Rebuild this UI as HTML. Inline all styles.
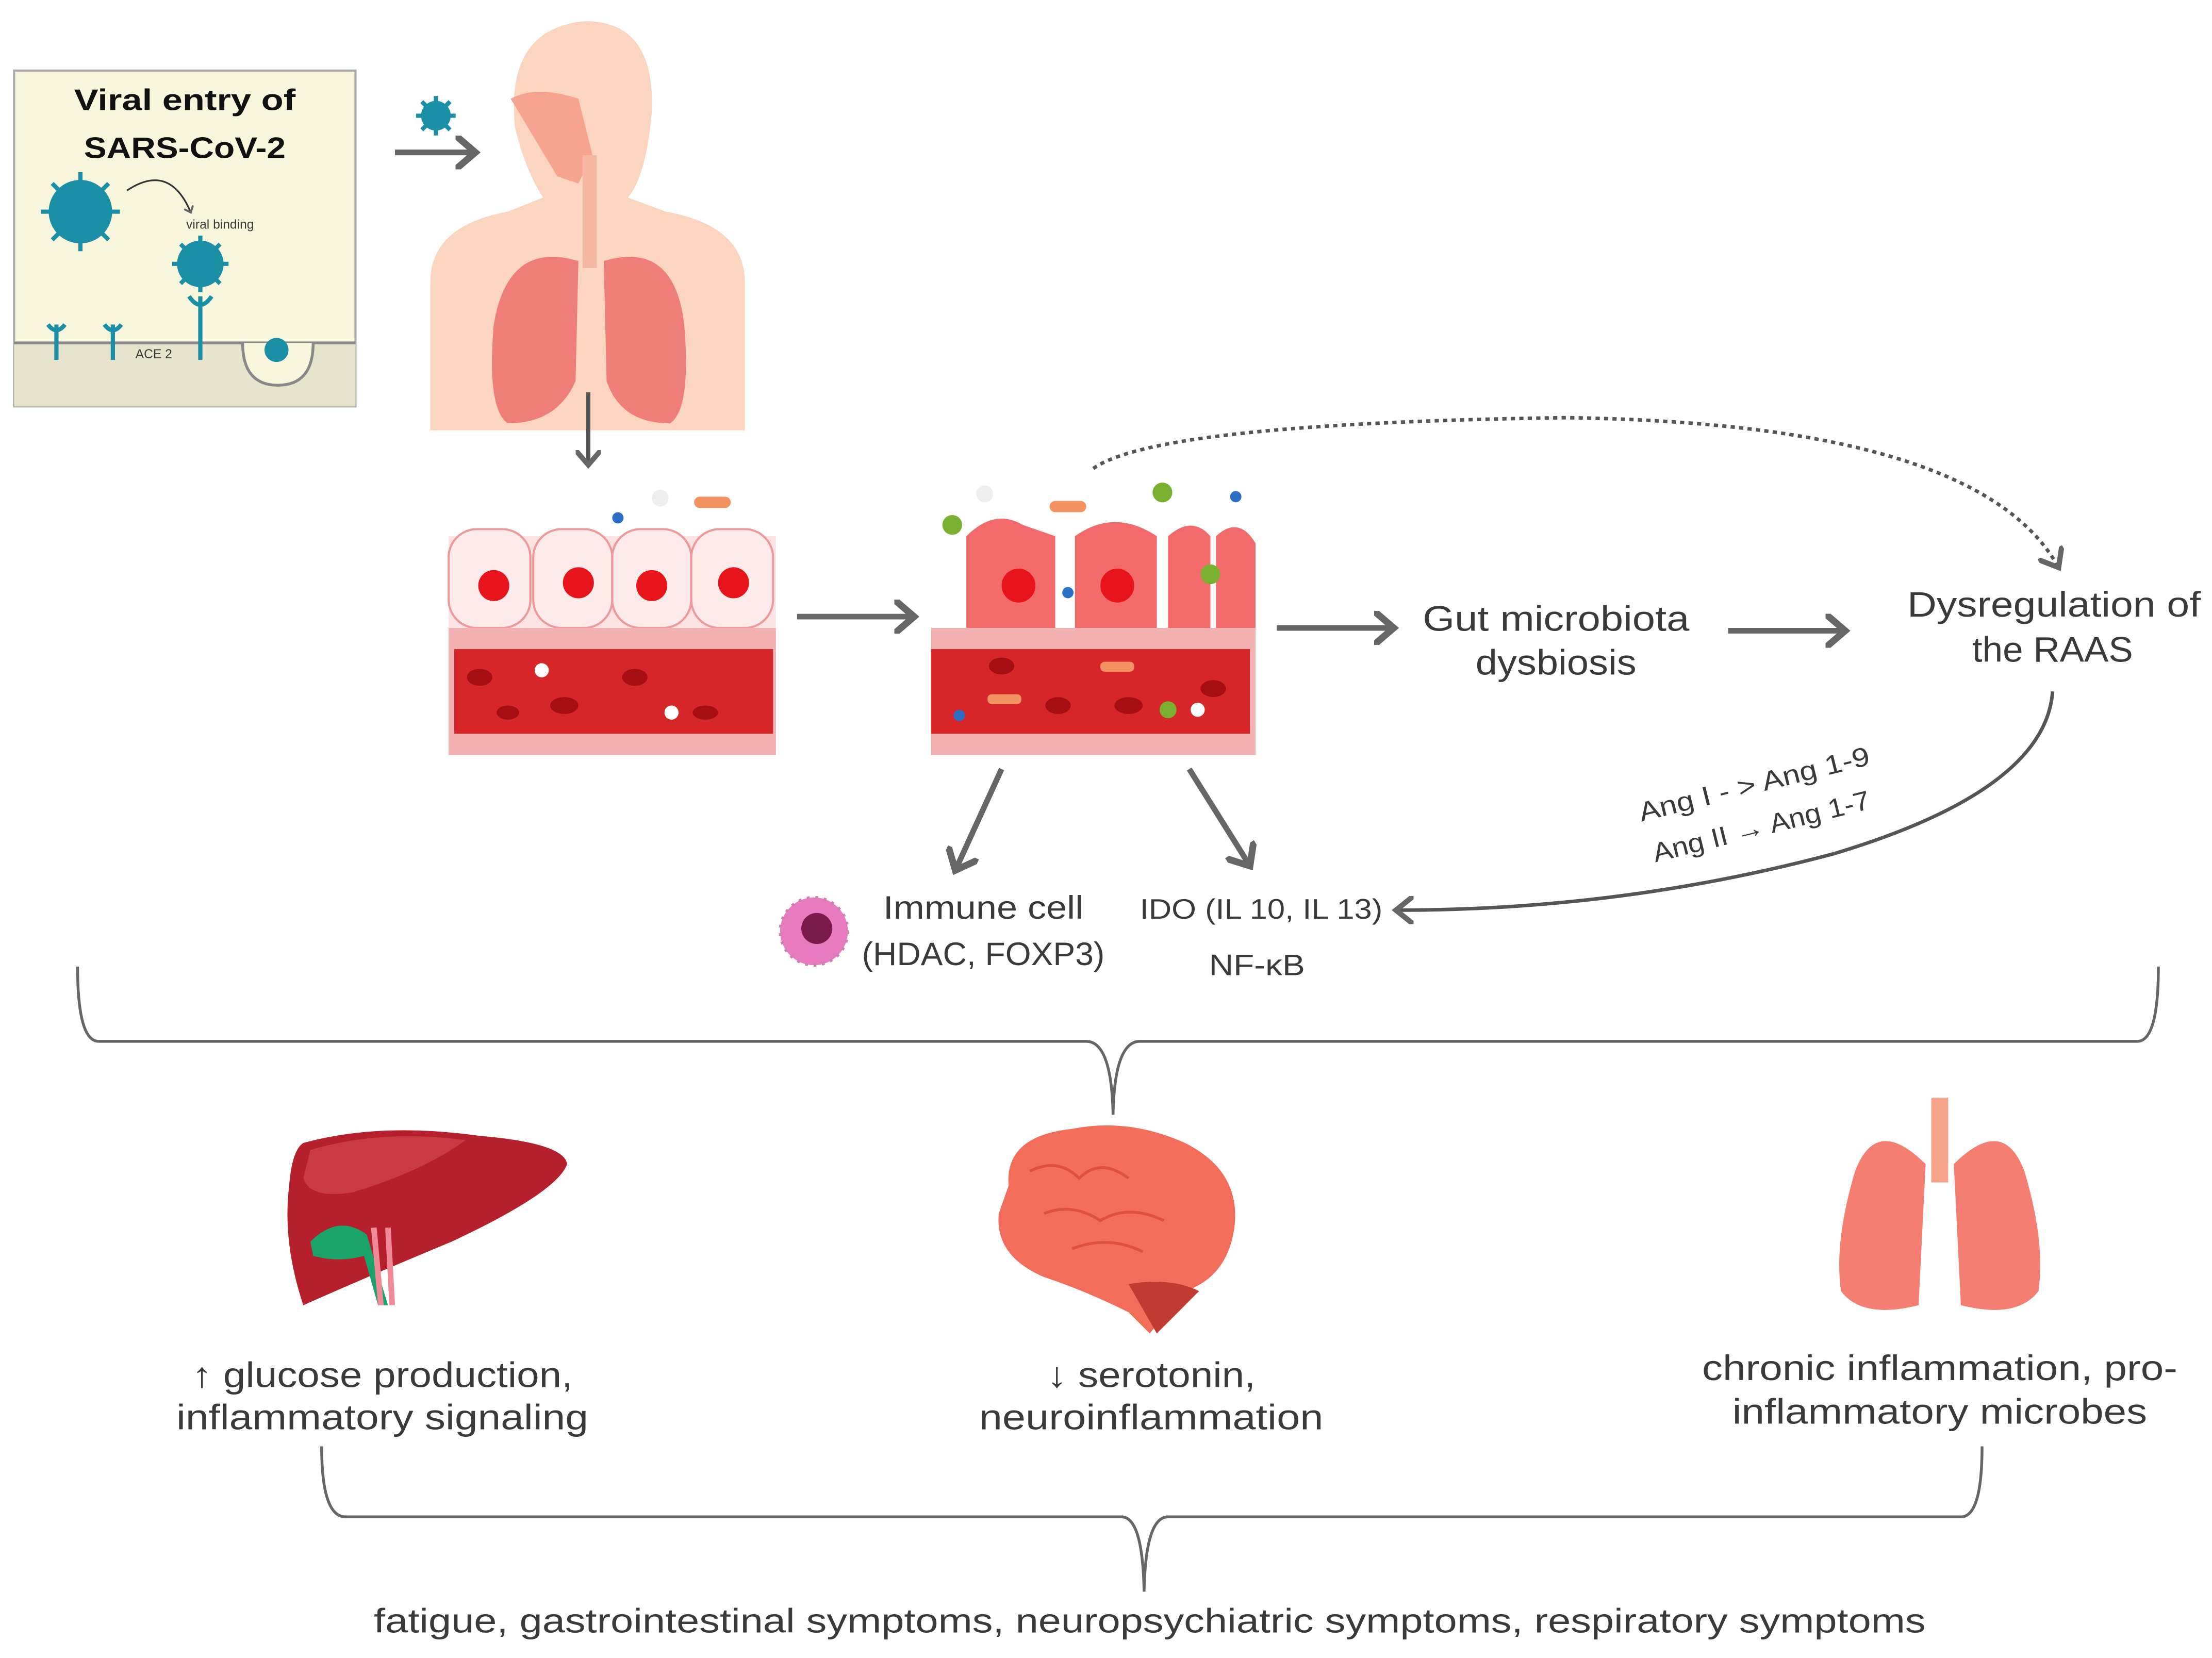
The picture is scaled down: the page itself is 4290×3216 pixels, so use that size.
<!DOCTYPE html>
<html><head><meta charset="utf-8"><style>
html,body{margin:0;padding:0;background:#fff;}
svg{display:block;}
text{font-family:"Liberation Sans","DejaVu Sans",sans-serif;fill:#3a3a3a;}
</style></head><body>
<svg width="4290" height="3216" viewBox="0 0 1568 1175" preserveAspectRatio="none" xmlns="http://www.w3.org/2000/svg">
<defs>
<marker id="ah" markerWidth="6" markerHeight="6" refX="3" refY="3" orient="auto" markerUnits="strokeWidth">
<path d="M0,0 L3.5,3 L0,6" fill="none" stroke="#666" stroke-width="1.2"/></marker>
<marker id="ah2" markerWidth="8" markerHeight="8" refX="4" refY="4" orient="auto" markerUnits="strokeWidth">
<path d="M0,0 L5,4 L0,8" fill="none" stroke="#666" stroke-width="1.5"/></marker>
</defs>
<rect width="1568" height="1175" fill="#fff"/>
<rect x="10" y="50" width="242" height="238" fill="#f7f6dc" stroke="#aaa" stroke-width="1.5"/>
<text x="131" y="78" font-size="21" font-weight="bold" text-anchor="middle" fill="#111" textLength="157" lengthAdjust="spacingAndGlyphs" style="fill:#111">Viral entry of</text>
<text x="131" y="112" font-size="21" font-weight="bold" text-anchor="middle" textLength="143" lengthAdjust="spacingAndGlyphs" style="fill:#111">SARS-CoV-2</text>
<rect x="10" y="243" width="242" height="45" fill="#e6e4cc"/>
<line x1="10" y1="243" x2="252" y2="243" stroke="#888" stroke-width="2"/>
<path d="M172,243 q0,30 25,30 q25,0 25,-30" fill="#f7f6dc" stroke="#888" stroke-width="2"/>
<g fill="#1a8fa6" stroke="#1a8fa6">
<circle cx="57" cy="150" r="22"/><circle cx="142" cy="187" r="16"/><circle cx="196" cy="248" r="8"/><circle cx="309" cy="82" r="10"/>
<g stroke-width="3" fill="none">
<path d="M57,122v56M29,150h56M37,130l40,40M77,130l-40,40"/>
<path d="M142,167v40M122,187h40M128,173l28,28M156,173l-28,28"/>
<path d="M309,68v28M295,82h28M299,72l20,20M319,72l-20,20"/>
<path d="M40,255v-25M34,230q6,8 12,0M80,255v-25M74,230q6,8 12,0M142,255v-45M134,210q8,12 16,0"/>
</g></g>
<path d="M90,135 q30,-20 45,15" fill="none" stroke="#333" stroke-width="1.2" marker-end="url(#ah)"/>
<text x="132" y="162" font-size="9">viral binding</text>
<text x="96" y="254" font-size="9">ACE 2</text>
<line x1="280" y1="108" x2="335" y2="108" stroke="#666" stroke-width="4" marker-end="url(#ah)"/>
<path d="M305,305 L305,200 Q305,160 360,150 L385,140 Q372,120 365,90 Q358,20 415,15 Q465,15 462,80 Q458,125 445,140 L472,150 Q528,160 528,200 L528,305 Z" fill="#fcd5c0"/>
<path d="M362,70 Q380,60 410,70 L420,110 L410,130 L395,125 Z" fill="#f6a38f"/>
<rect x="413" y="110" width="10" height="80" fill="#f4b8a2"/>
<path d="M410,185 Q360,170 350,230 Q345,290 360,300 Q395,300 408,270 Z" fill="#ef7d78"/>
<path d="M428,185 Q478,170 485,230 Q490,290 475,300 Q440,300 430,270 Z" fill="#ef7d78"/>
<line x1="417" y1="278" x2="417" y2="328" stroke="#555" stroke-width="3" marker-end="url(#ah)"/>
<g>
<rect x="318" y="380" width="232" height="65" fill="#fbe3e3"/>
<g fill="#fdeaea" stroke="#e99" stroke-width="1.5">
<rect x="318" y="375" width="58" height="70" rx="20"/><rect x="378" y="375" width="56" height="70" rx="20"/><rect x="434" y="375" width="56" height="70" rx="20"/><rect x="490" y="375" width="58" height="70" rx="20"/></g>
<g fill="#e8141c"><circle cx="350" cy="415" r="11"/><circle cx="410" cy="413" r="11"/><circle cx="462" cy="415" r="11"/><circle cx="520" cy="413" r="11"/></g>
<rect x="318" y="445" width="232" height="90" fill="#f3b1b1"/>
<rect x="322" y="460" width="226" height="60" fill="#d7262a"/>
<g fill="#a50f14"><ellipse cx="340" cy="480" rx="9" ry="6"/><ellipse cx="400" cy="500" rx="10" ry="6"/><ellipse cx="450" cy="480" rx="9" ry="6"/><ellipse cx="500" cy="505" rx="9" ry="5"/><ellipse cx="360" cy="505" rx="8" ry="5"/></g>
<circle cx="384" cy="475" r="5" fill="#fff"/><circle cx="476" cy="505" r="5" fill="#fff"/>
<circle cx="438" cy="367" r="4" fill="#2a6fc4"/><circle cx="468" cy="353" r="6" fill="#eee"/><rect x="492" y="352" width="26" height="8" rx="4" fill="#f59262"/>
</g>
<line x1="565" y1="437" x2="646" y2="437" stroke="#666" stroke-width="4" marker-end="url(#ah)"/>
<g>
<path d="M685,445 L685,380 Q705,360 725,372 L748,380 L748,445Z" fill="#f26a6a"/>
<path d="M762,445 L762,380 Q790,360 820,380 L820,445Z" fill="#f26a6a"/>
<path d="M828,445 L828,380 Q845,365 858,380 L858,445Z M862,445 L862,380 Q878,365 890,385 L890,445Z" fill="#f26a6a"/>
<g fill="#e8141c"><circle cx="722" cy="415" r="12"/><circle cx="792" cy="415" r="12"/></g>
<rect x="660" y="445" width="230" height="90" fill="#f3b1b1"/>
<rect x="660" y="460" width="226" height="60" fill="#d7262a"/>
<g fill="#a50f14"><ellipse cx="710" cy="472" rx="9" ry="6"/><ellipse cx="750" cy="500" rx="9" ry="6"/><ellipse cx="800" cy="500" rx="10" ry="6"/><ellipse cx="860" cy="488" rx="9" ry="6"/></g>
<circle cx="698" cy="350" r="6" fill="#eee"/><rect x="744" y="355" width="26" height="8" rx="4" fill="#f59262"/>
<circle cx="675" cy="372" r="7" fill="#7ab030"/><circle cx="824" cy="349" r="7" fill="#7ab030"/><circle cx="876" cy="352" r="4" fill="#2a6fc4"/>
<circle cx="757" cy="420" r="4" fill="#2a6fc4"/><circle cx="858" cy="407" r="7" fill="#7ab030"/>
<circle cx="680" cy="507" r="4" fill="#2a6fc4"/><circle cx="828" cy="503" r="6" fill="#7ab030"/><circle cx="849" cy="503" r="5" fill="#fff"/>
<rect x="780" y="469" width="24" height="7" rx="3" fill="#f59262"/><rect x="700" y="492" width="24" height="7" rx="3" fill="#f59262"/>
</g>
<line x1="905" y1="445" x2="986" y2="445" stroke="#666" stroke-width="4" marker-end="url(#ah)"/>
<text x="1103" y="447" font-size="25" text-anchor="middle" textLength="189" lengthAdjust="spacingAndGlyphs">Gut microbiota</text>
<text x="1103" y="478" font-size="25" text-anchor="middle" textLength="114" lengthAdjust="spacingAndGlyphs">dysbiosis</text>
<line x1="1225" y1="447" x2="1306" y2="447" stroke="#666" stroke-width="4" marker-end="url(#ah)"/>
<text x="1456" y="437" font-size="25" text-anchor="middle" textLength="208" lengthAdjust="spacingAndGlyphs">Dysregulation of</text>
<text x="1455" y="469" font-size="25" text-anchor="middle" textLength="114" lengthAdjust="spacingAndGlyphs">the RAAS</text>
<path d="M775,332 Q820,300 1110,296 Q1400,300 1458,400" fill="none" stroke="#555" stroke-width="2.5" stroke-dasharray="3,3" marker-end="url(#ah2)"/>
<path d="M1455,490 Q1450,560 1300,605 Q1150,645 992,645" fill="none" stroke="#555" stroke-width="2.5" marker-end="url(#ah2)"/>
<text x="1245" y="562" font-size="19" text-anchor="middle" transform="rotate(-14 1245 562)" textLength="168" lengthAdjust="spacingAndGlyphs">Ang I - &gt; Ang 1-9</text>
<text x="1250" y="592" font-size="19" text-anchor="middle" transform="rotate(-14 1250 592)" textLength="158" lengthAdjust="spacingAndGlyphs">Ang II → Ang 1-7</text>
<line x1="710" y1="545" x2="678" y2="615" stroke="#666" stroke-width="4" marker-end="url(#ah)"/>
<line x1="843" y1="545" x2="885" y2="612" stroke="#666" stroke-width="4" marker-end="url(#ah)"/>
<circle cx="577" cy="660" r="24" fill="#e87bbf" stroke="#d080b0" stroke-width="2" stroke-dasharray="2,4"/>
<circle cx="579" cy="658" r="11" fill="#7a1a4a"/>
<text x="697" y="651" font-size="23" text-anchor="middle" textLength="142" lengthAdjust="spacingAndGlyphs">Immune cell</text>
<text x="697" y="684" font-size="23" text-anchor="middle" textLength="172" lengthAdjust="spacingAndGlyphs">(HDAC, FOXP3)</text>
<text x="894" y="651" font-size="20" text-anchor="middle" textLength="172" lengthAdjust="spacingAndGlyphs">IDO (IL 10, IL 13)</text>
<text x="891" y="691" font-size="21" text-anchor="middle" textLength="68" lengthAdjust="spacingAndGlyphs">NF-κB</text>
<path d="M55,685 Q55,738 70,738 L770,738 Q788,738 789,790 Q790,738 808,738 L1515,738 Q1530,738 1530,685" fill="none" stroke="#666" stroke-width="2"/>
<path d="M215,810 Q270,795 340,805 Q400,810 402,825 Q395,845 320,880 Q260,905 215,925 Q200,880 205,840 Q207,815 215,810Z" fill="#b5202c"/>
<path d="M220,815 Q270,800 330,808 Q300,830 250,845 Q220,850 215,835Z" fill="#c93a44"/>
<path d="M220,880 Q240,860 260,875 L275,925 L268,925 L258,890 Q240,895 222,890Z" fill="#1aa36a"/>
<path d="M265,870 L270,925 M275,870 L278,925" stroke="#f08a96" stroke-width="4"/>
<path d="M715,840 Q712,805 760,800 Q800,792 840,810 Q880,830 875,870 Q870,905 840,915 L815,945 L800,930 Q770,915 740,905 Q705,890 708,860Z" fill="#f36d5b"/>
<g fill="none" stroke="#e0503f" stroke-width="2"><path d="M730,830 q20,-10 35,5 q15,-15 35,0 M740,860 q20,-8 40,5 q20,-12 45,0 M760,885 q25,-10 50,2"/></g>
<path d="M800,910 Q830,905 850,915 L820,945Z" fill="#c23a32"/>
<rect x="1369" y="778" width="12" height="60" fill="#f7a38a"/>
<path d="M1365,825 Q1330,790 1315,830 Q1300,880 1305,915 Q1320,935 1360,925 Z" fill="#f57e72"/>
<path d="M1385,825 Q1420,790 1435,830 Q1450,880 1445,915 Q1430,935 1390,925 Z" fill="#f57e72"/>
<text x="271" y="983" font-size="25" text-anchor="middle" textLength="270" lengthAdjust="spacingAndGlyphs">↑ glucose production,</text>
<text x="271" y="1013" font-size="25" text-anchor="middle" textLength="292" lengthAdjust="spacingAndGlyphs">inflammatory signaling</text>
<text x="816" y="983" font-size="25" text-anchor="middle" textLength="148" lengthAdjust="spacingAndGlyphs">↓ serotonin,</text>
<text x="816" y="1013" font-size="25" text-anchor="middle" textLength="244" lengthAdjust="spacingAndGlyphs">neuroinflammation</text>
<text x="1375" y="978" font-size="25" text-anchor="middle" textLength="337" lengthAdjust="spacingAndGlyphs">chronic inflammation, pro-</text>
<text x="1375" y="1009" font-size="25" text-anchor="middle" textLength="294" lengthAdjust="spacingAndGlyphs">inflammatory microbes</text>
<path d="M228,1025 Q228,1075 245,1075 L795,1075 Q810,1075 811,1128 Q812,1075 828,1075 L1390,1075 Q1405,1075 1405,1025" fill="none" stroke="#666" stroke-width="2"/>
<text x="815" y="1157" font-size="24" text-anchor="middle" textLength="1100" lengthAdjust="spacingAndGlyphs">fatigue, gastrointestinal symptoms, neuropsychiatric symptoms, respiratory symptoms</text>
</svg>
</body></html>
